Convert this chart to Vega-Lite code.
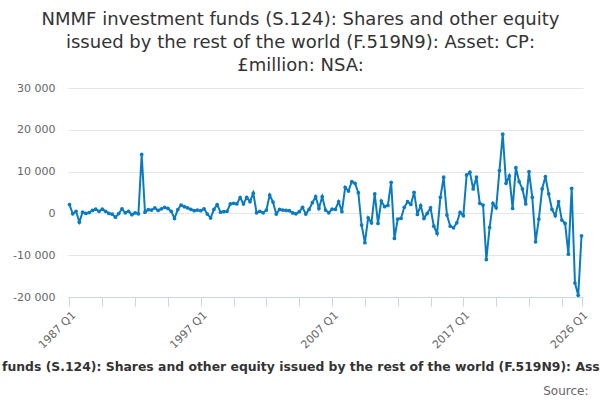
{
  "$schema": "https://vega.github.io/schema/vega-lite/v6.json",
  "autosize": {"type": "none"},
  "padding": {"left": 68, "top": 88, "right": 17, "bottom": 103},
  "width": 515,
  "height": 209,
  "title": {
    "text": ["NMMF investment funds (S.124): Shares and other equity", "issued by the rest of the world (F.519N9): Asset: CP:", "£million: NSA:"],
    "fontSize": 18,
    "fontWeight": "normal",
    "font": "DejaVu Sans",
    "color": "#333333",
    "lineHeight": 23,
    "anchor": "middle",
    "dx": -25,
    "offset": 7
  },
  "data": {
    "values": [
      {"q": "1987 Q1", "v": 2100}, {"q": "1987 Q2", "v": -100}, {"q": "1987 Q3", "v": 500}, {"q": "1987 Q4", "v": -2100},
      {"q": "1988 Q1", "v": 300}, {"q": "1988 Q2", "v": 0}, {"q": "1988 Q3", "v": 200}, {"q": "1988 Q4", "v": 700},
      {"q": "1989 Q1", "v": 1000}, {"q": "1989 Q2", "v": 500}, {"q": "1989 Q3", "v": 1000}, {"q": "1989 Q4", "v": 500},
      {"q": "1990 Q1", "v": 0}, {"q": "1990 Q2", "v": -200}, {"q": "1990 Q3", "v": -900}, {"q": "1990 Q4", "v": -50},
      {"q": "1991 Q1", "v": 1100}, {"q": "1991 Q2", "v": 150}, {"q": "1991 Q3", "v": 500}, {"q": "1991 Q4", "v": -300},
      {"q": "1992 Q1", "v": 150}, {"q": "1992 Q2", "v": -100}, {"q": "1992 Q3", "v": 14100}, {"q": "1992 Q4", "v": 300},
      {"q": "1993 Q1", "v": 900}, {"q": "1993 Q2", "v": 800}, {"q": "1993 Q3", "v": 1300}, {"q": "1993 Q4", "v": 700},
      {"q": "1994 Q1", "v": 1100}, {"q": "1994 Q2", "v": 1450}, {"q": "1994 Q3", "v": 1200}, {"q": "1994 Q4", "v": 500},
      {"q": "1995 Q1", "v": -1200}, {"q": "1995 Q2", "v": 900}, {"q": "1995 Q3", "v": 2000}, {"q": "1995 Q4", "v": 1600},
      {"q": "1996 Q1", "v": 1300}, {"q": "1996 Q2", "v": 950}, {"q": "1996 Q3", "v": 650}, {"q": "1996 Q4", "v": 800},
      {"q": "1997 Q1", "v": 650}, {"q": "1997 Q2", "v": 1100}, {"q": "1997 Q3", "v": -150}, {"q": "1997 Q4", "v": -1100},
      {"q": "1998 Q1", "v": 950}, {"q": "1998 Q2", "v": 2100}, {"q": "1998 Q3", "v": 300}, {"q": "1998 Q4", "v": 400},
      {"q": "1999 Q1", "v": 500}, {"q": "1999 Q2", "v": 2250}, {"q": "1999 Q3", "v": 2400}, {"q": "1999 Q4", "v": 2250},
      {"q": "2000 Q1", "v": 3800}, {"q": "2000 Q2", "v": 2250}, {"q": "2000 Q3", "v": 3850}, {"q": "2000 Q4", "v": 2800},
      {"q": "2001 Q1", "v": 4850}, {"q": "2001 Q2", "v": 150}, {"q": "2001 Q3", "v": 500}, {"q": "2001 Q4", "v": 150},
      {"q": "2002 Q1", "v": 800}, {"q": "2002 Q2", "v": 4400}, {"q": "2002 Q3", "v": 2700}, {"q": "2002 Q4", "v": -150},
      {"q": "2003 Q1", "v": 950}, {"q": "2003 Q2", "v": 800}, {"q": "2003 Q3", "v": 700}, {"q": "2003 Q4", "v": 650},
      {"q": "2004 Q1", "v": 100}, {"q": "2004 Q2", "v": -100}, {"q": "2004 Q3", "v": 400}, {"q": "2004 Q4", "v": 1450},
      {"q": "2005 Q1", "v": -150}, {"q": "2005 Q2", "v": 950}, {"q": "2005 Q3", "v": 2550}, {"q": "2005 Q4", "v": 4000},
      {"q": "2006 Q1", "v": 1200}, {"q": "2006 Q2", "v": 4000}, {"q": "2006 Q3", "v": 800}, {"q": "2006 Q4", "v": 150},
      {"q": "2007 Q1", "v": 1050}, {"q": "2007 Q2", "v": 950}, {"q": "2007 Q3", "v": 2800}, {"q": "2007 Q4", "v": 400},
      {"q": "2008 Q1", "v": 6250}, {"q": "2008 Q2", "v": 5350}, {"q": "2008 Q3", "v": 7600}, {"q": "2008 Q4", "v": 7200},
      {"q": "2009 Q1", "v": 4950}, {"q": "2009 Q2", "v": -2800}, {"q": "2009 Q3", "v": -7000}, {"q": "2009 Q4", "v": -1050},
      {"q": "2010 Q1", "v": -2250}, {"q": "2010 Q2", "v": 4650}, {"q": "2010 Q3", "v": -2400}, {"q": "2010 Q4", "v": 2950},
      {"q": "2011 Q1", "v": 1600}, {"q": "2011 Q2", "v": 1900}, {"q": "2011 Q3", "v": 7450}, {"q": "2011 Q4", "v": -6000},
      {"q": "2012 Q1", "v": -1350}, {"q": "2012 Q2", "v": -1200}, {"q": "2012 Q3", "v": 1450}, {"q": "2012 Q4", "v": 2800},
      {"q": "2013 Q1", "v": 2150}, {"q": "2013 Q2", "v": 5050}, {"q": "2013 Q3", "v": -250}, {"q": "2013 Q4", "v": 1850},
      {"q": "2014 Q1", "v": -1200}, {"q": "2014 Q2", "v": 0}, {"q": "2014 Q3", "v": 1350}, {"q": "2014 Q4", "v": -3050},
      {"q": "2015 Q1", "v": -4800}, {"q": "2015 Q2", "v": 3850}, {"q": "2015 Q3", "v": 8650}, {"q": "2015 Q4", "v": -400},
      {"q": "2016 Q1", "v": -3050}, {"q": "2016 Q2", "v": -3450}, {"q": "2016 Q3", "v": -2250}, {"q": "2016 Q4", "v": 250},
      {"q": "2017 Q1", "v": -550}, {"q": "2017 Q2", "v": 9200}, {"q": "2017 Q3", "v": 9850}, {"q": "2017 Q4", "v": 5850},
      {"q": "2018 Q1", "v": 8700}, {"q": "2018 Q2", "v": 2400}, {"q": "2018 Q3", "v": 2000}, {"q": "2018 Q4", "v": -11050},
      {"q": "2019 Q1", "v": -3350}, {"q": "2019 Q2", "v": 2400}, {"q": "2019 Q3", "v": 1350}, {"q": "2019 Q4", "v": 10250},
      {"q": "2020 Q1", "v": 18950}, {"q": "2020 Q2", "v": 7200}, {"q": "2020 Q3", "v": 8950}, {"q": "2020 Q4", "v": 1200},
      {"q": "2021 Q1", "v": 10950}, {"q": "2021 Q2", "v": 7600}, {"q": "2021 Q3", "v": 5850}, {"q": "2021 Q4", "v": 2250},
      {"q": "2022 Q1", "v": 10000}, {"q": "2022 Q2", "v": 3850}, {"q": "2022 Q3", "v": -6800}, {"q": "2022 Q4", "v": -1350},
      {"q": "2023 Q1", "v": 5850}, {"q": "2023 Q2", "v": 8800}, {"q": "2023 Q3", "v": 4650}, {"q": "2023 Q4", "v": 950},
      {"q": "2024 Q1", "v": -550}, {"q": "2024 Q2", "v": 2800}, {"q": "2024 Q3", "v": -1600}, {"q": "2024 Q4", "v": -2400},
      {"q": "2025 Q1", "v": -9750}, {"q": "2025 Q2", "v": 6000}, {"q": "2025 Q3", "v": -16650}, {"q": "2025 Q4", "v": -19600},
      {"q": "2026 Q1", "v": -5350}
    ]
  },
  "mark": {
    "type": "line",
    "color": "#0b7bc1",
    "strokeWidth": 2,
    "point": {"filled": true, "size": 14, "color": "#0b7bc1"}
  },
  "encoding": {
    "x": {
      "field": "q",
      "type": "ordinal",
      "sort": null,
      "scale": {"type": "point", "padding": 0.45},
      "axis": {
        "title": "NMMF investment funds (S.124): Shares and other equity issued by the rest of the world (F.519N9): Asset: CP: £million: NSA:",
        "titleFont": "DejaVu Sans",
        "titleFontSize": 12.4,
        "titleFontWeight": "bold",
        "titleColor": "#333333",
        "titleLimit": 2000,
        "titleAlign": "center",
        "titleBaseline": "middle",
        "titleX": 242,
        "titleY": 69,
        "values": ["1987 Q1", "1989 Q3", "1992 Q1", "1994 Q3", "1997 Q1", "1999 Q3", "2002 Q1", "2004 Q3", "2007 Q1", "2009 Q3", "2012 Q1", "2014 Q3", "2017 Q1", "2019 Q3", "2022 Q1", "2024 Q3", "2026 Q1"],
        "labelExpr": "indexof(['1987 Q1', '1997 Q1', '2007 Q1', '2017 Q1', '2026 Q1'], datum.value) >= 0 ? datum.value : ''",
        "labelAngle": -45,
        "labelFont": "DejaVu Sans",
        "labelFontSize": 11,
        "labelColor": "#666666",
        "labelPadding": 3,
        "labelOverlap": false,
        "domainColor": "#ccd6eb",
        "tickColor": "#ccd6eb",
        "tickSize": 9,
        "grid": false
      }
    },
    "y": {
      "field": "v",
      "type": "quantitative",
      "scale": {"domain": [-20000, 30000], "nice": false, "zero": false},
      "axis": {
        "values": [-20000, -10000, 0, 10000, 20000, 30000],
        "labelExpr": "(datum.value < 0 ? '-' : '') + replace(format(abs(datum.value), ','), ',', ' ')",
        "labelFont": "DejaVu Sans",
        "labelFontSize": 11,
        "labelColor": "#666666",
        "labelPadding": 13,
        "ticks": false,
        "domain": false,
        "gridColor": "#e6e6e6",
        "title": "Source:",
        "titleAngle": 0,
        "titleAlign": "right",
        "titleBaseline": "middle",
        "titleX": 520,
        "titleY": 302,
        "titleFont": "DejaVu Sans",
        "titleFontSize": 12,
        "titleFontWeight": "normal",
        "titleColor": "#666666"
      }
    }
  },
  "config": {
    "view": {"stroke": null},
    "font": "DejaVu Sans"
  }
}
